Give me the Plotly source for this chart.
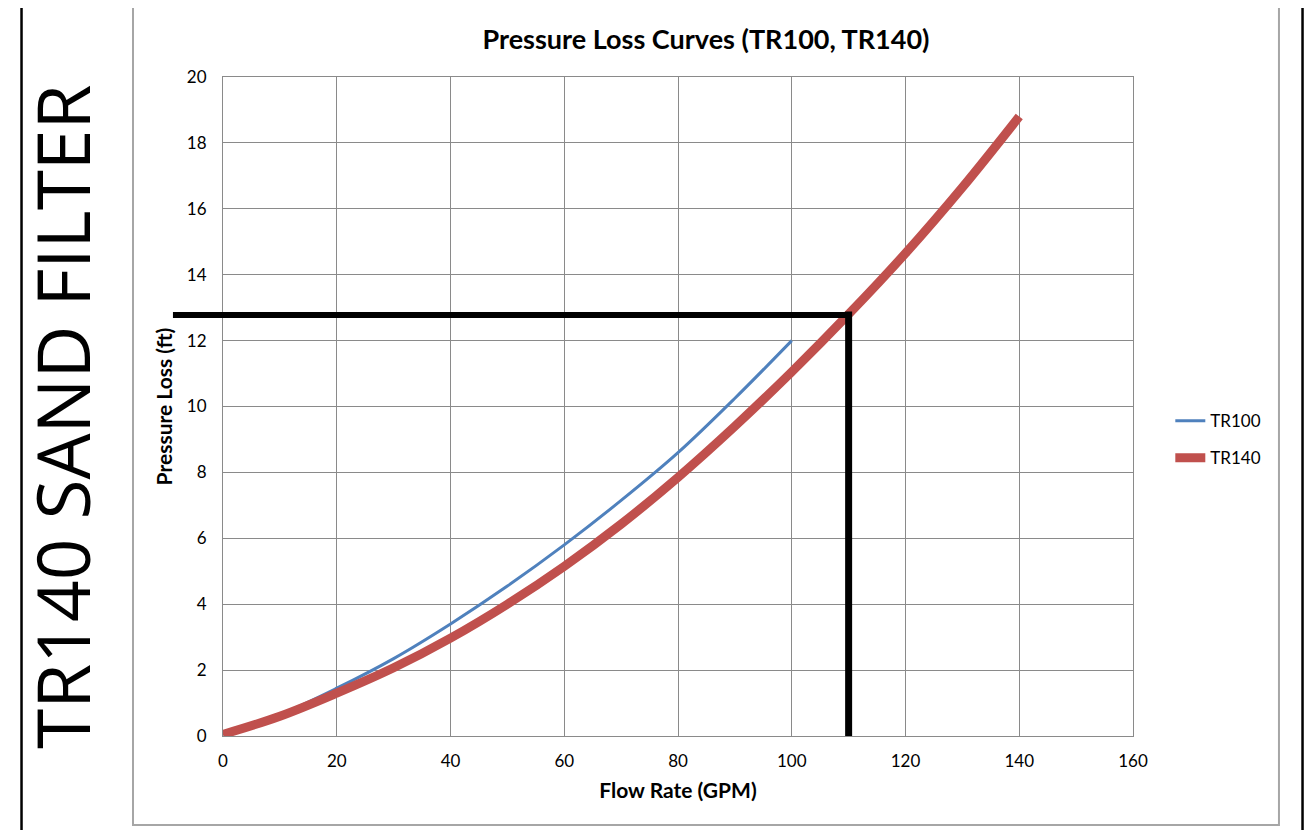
import plotly.graph_objects as go

# ---- data ----
flow_tr100 = [0, 10, 20, 30, 40, 50, 60, 70, 80, 90, 100]
loss_tr100 = [0.05, 0.65, 1.45, 2.35, 3.4, 4.55, 5.8, 7.15, 8.6, 10.25, 12.0]

flow_tr140 = [0, 10, 20, 30, 40, 50, 60, 70, 80, 90, 100, 110, 120, 130, 140]
loss_tr140 = [0.05, 0.6, 1.3, 2.07, 2.97, 4.0, 5.15, 6.43, 7.85, 9.4, 11.05, 12.8, 14.65, 16.65, 18.8]

x_ticks = [0, 20, 40, 60, 80, 100, 120, 140, 160]
y_ticks = [0, 2, 4, 6, 8, 10, 12, 14, 16, 18, 20]

design_flow = 110
design_loss = 12.78

FONT = "Lato"

fig = go.Figure()
fig.add_trace(go.Scatter(x=flow_tr100, y=loss_tr100, mode="lines", name="TR100",
                         line=dict(color="#4F81BD", width=3, shape="spline"),
                         legendgroup="a"))
fig.add_trace(go.Scatter(x=flow_tr140, y=loss_tr140, mode="lines", name="TR140",
                         line=dict(color="#C0504D", width=9, shape="spline"),
                         legendgroup="b"))

shapes = [
    # chart outer box
    dict(type="rect", xref="paper", yref="paper", x0=-0.0989, x1=1.1604, y0=-0.135, y1=1.1077,
         line=dict(color="#A6A6A6", width=2), layer="below"),
    # page border lines
    dict(type="line", xref="paper", yref="paper", x0=-0.2214, x1=-0.2214, y0=-0.16, y1=1.12,
         line=dict(color="black", width=2.5)),
    dict(type="line", xref="paper", yref="paper", x0=1.1863, x1=1.1863, y0=-0.16, y1=1.12,
         line=dict(color="black", width=2.5)),
    # design point markers
    dict(type="line", xref="paper", yref="y", x0=-0.055, x1=(design_flow + 0.35) / 160, y0=design_loss, y1=design_loss,
         line=dict(color="black", width=6)),
    dict(type="line", xref="x", yref="y", x0=design_flow, x1=design_flow, y0=design_loss + 0.1, y1=0,
         line=dict(color="black", width=7)),
]

fig.update_layout(
    width=1314, height=830,
    margin=dict(l=215, r=189, t=69, b=102),
    paper_bgcolor="white", plot_bgcolor="white",
    font=dict(family=FONT, color="black"),
    title=dict(text="<b>Pressure Loss Curves (TR100, TR140)</b>", x=0.5312, xref="container", xanchor="center",
               y=0.9614, yref="container", yanchor="middle", font=dict(size=27, family=FONT, color="black")),
    xaxis=dict(range=[0, 160], tickvals=x_ticks, ticktext=[str(v) for v in x_ticks],
               showgrid=True, gridcolor="#8A8A8A", gridwidth=1,
               showline=True, linecolor="#8A8A8A", linewidth=1, mirror=True,
               zeroline=False, ticks="", tickfont=dict(size=17, family=FONT), ticklabelstandoff=10,
               title=dict(text="<b>Flow Rate (GPM)</b>", font=dict(size=21, family=FONT), standoff=12)),
    yaxis=dict(range=[0, 20], tickvals=y_ticks, ticktext=[str(v) for v in y_ticks],
               showgrid=True, gridcolor="#8A8A8A", gridwidth=1,
               showline=True, linecolor="#8A8A8A", linewidth=1, mirror=True,
               zeroline=False, ticks="", tickfont=dict(size=17, family=FONT), ticklabelstandoff=12,
               title=dict(text="<b>Pressure Loss (ft)</b>", font=dict(size=21, family=FONT), standoff=8)),
    legend=dict(x=1.041, y=0.505, xanchor="left", yanchor="top", font=dict(size=17, family=FONT),
                bgcolor="rgba(0,0,0,0)", tracegroupgap=12, traceorder="grouped"),
    shapes=shapes,
    annotations=[dict(text="TR140 SAND FILTER", xref="paper", yref="paper", x=-0.178, y=0.484,
                      xanchor="center", yanchor="middle", textangle=-90, showarrow=False,
                      font=dict(size=73, family="Open Sans", color="black"))],
)

fig.write_html("out.html")
